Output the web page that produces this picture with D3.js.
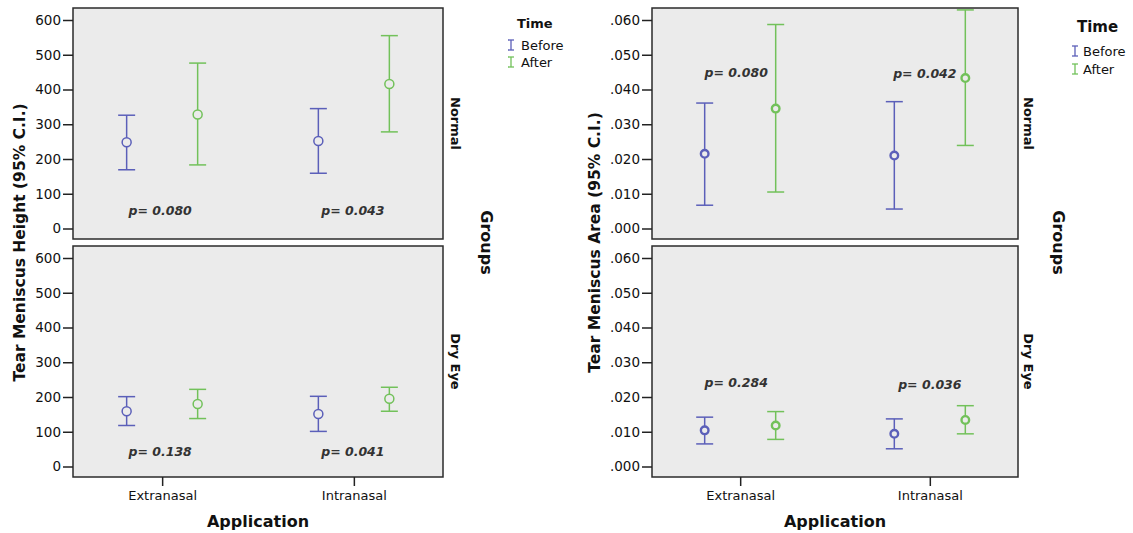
<!DOCTYPE html>
<html>
<head>
<meta charset="utf-8">
<script src="https://cdn.jsdelivr.net/npm/d3@7"></script>
<style>
  html, body { margin: 0; padding: 0; background: #ffffff; }
  svg { display: block; font-family: "DejaVu Sans", Verdana, sans-serif; }
</style>
</head>
<body>
<svg id="chart" width="1133" height="533"></svg>
<script>
// ---------------- DATA ----------------
const applications = ["Extranasal", "Intranasal"];
const groups = ["Normal", "Dry Eye"];
const times = ["Before", "After"];
const heightTicks = [0, 100, 200, 300, 400, 500, 600];
const areaTicks = [0, 0.01, 0.02, 0.03, 0.04, 0.05, 0.06];

// [mean, lower 95% CI, upper 95% CI] for Extranasal, Intranasal
const heightNormalBefore = [[248, 169, 326], [252, 159, 345]];
const heightNormalAfter  = [[328, 183, 476], [416, 278, 555]];
const heightDryBefore    = [[159, 118, 201], [151, 101, 202]];
const heightDryAfter     = [[180, 138, 222], [195, 159, 228]];

const areaNormalBefore = [[0.0215, 0.0067, 0.0361], [0.0210, 0.0056, 0.0365]];
const areaNormalAfter  = [[0.0345, 0.0105, 0.0587], [0.0433, 0.0239, 0.0629]];
const areaDryBefore    = [[0.0104, 0.0065, 0.0142], [0.0094, 0.0051, 0.0137]];
const areaDryAfter     = [[0.0118, 0.0078, 0.0158], [0.0134, 0.0094, 0.0175]];

// p-value annotations [group][application]
const heightPValues = [["p= 0.080", "p= 0.043"], ["p= 0.138", "p= 0.041"]];
const areaPValues   = [["p= 0.080", "p= 0.042"], ["p= 0.284", "p= 0.036"]];

// ---------------- STYLE / LAYOUT ----------------
const colors = { Before: "#5b5fb9", After: "#72c15a" };
const panelFill = "#ebebeb";

const svg = d3.select("#chart");

function buildRows(seriesByGroup) {
  const rows = [];
  groups.forEach((g, gi) => {
    times.forEach((t, ti) => {
      applications.forEach((a, ai) => {
        const v = seriesByGroup[gi][ti][ai];
        rows.push({ group: g, gi, time: t, app: a, ai, mean: v[0], lo: v[1], hi: v[2] });
      });
    });
  });
  return rows;
}

function drawChart(cfg) {
  const g = svg.append("g");
  const x = d3.scalePoint().domain(applications).range([cfg.x0, cfg.x1]).padding(0.465);
  const dx = d3.scalePoint().domain(times).range([-35.5, 35.5]);

  const ys = cfg.panels.map(p =>
    d3.scaleLinear().domain([cfg.ticks[0], cfg.ticks[cfg.ticks.length - 1]])
      .range([p[1] - 10.5, p[0] + 12]));

  cfg.panels.forEach((p, pi) => {
    g.append("rect")
      .attr("x", cfg.x0).attr("y", p[0])
      .attr("width", cfg.x1 - cfg.x0).attr("height", p[1] - p[0])
      .attr("fill", panelFill).attr("stroke", "#2b2b2b").attr("stroke-width", 1.5);

    const yAxis = d3.axisLeft(ys[pi]).tickValues(cfg.ticks).tickSize(10).tickPadding(2)
      .tickFormat(cfg.fmt);
    const ag = g.append("g").attr("transform", `translate(${cfg.x0},0)`).call(yAxis);
    ag.select(".domain").remove();
    ag.selectAll("line").attr("stroke", "#222").attr("stroke-width", 1.5);
    ag.selectAll("text").attr("font-size", 13.5).attr("fill", "#111")
      .attr("font-family", "DejaVu Sans, sans-serif");

    g.append("text")
      .attr("transform", `translate(${cfg.facetX},${(p[0] + p[1]) / 2}) rotate(90)`)
      .attr("text-anchor", "middle").attr("dy", "0.35em")
      .attr("font-size", 13).attr("font-weight", "bold").attr("fill", "#111")
      .text(groups[pi]);

    applications.forEach((a, ai) => {
      g.append("text")
        .attr("x", x(a) + cfg.pDx[pi][ai])
        .attr("y", ys[pi](cfg.pY[pi][ai]))
        .attr("text-anchor", "middle").attr("dy", "0.35em")
        .attr("font-size", 12.5).attr("font-style", "italic").attr("font-weight", "bold")
        .attr("fill", "#333")
        .text(cfg.pValues[pi][ai]);
    });
  });

  const rows = buildRows(cfg.series);
  const cap = 8.5;
  rows.forEach(d => {
    const y = ys[d.gi];
    const cx = x(d.app) + dx(d.time);
    const c = colors[d.time];
    const eg = g.append("g").attr("stroke", c).attr("fill", "none").attr("stroke-width", 1.5);
    eg.append("line").attr("x1", cx).attr("x2", cx).attr("y1", y(d.lo)).attr("y2", y(d.hi));
    eg.append("line").attr("x1", cx - cap).attr("x2", cx + cap).attr("y1", y(d.lo)).attr("y2", y(d.lo));
    eg.append("line").attr("x1", cx - cap).attr("x2", cx + cap).attr("y1", y(d.hi)).attr("y2", y(d.hi));
    eg.append("circle").attr("cx", cx).attr("cy", y(d.mean)).attr("r", cfg.r)
      .attr("fill", panelFill).attr("stroke-width", cfg.circleStroke);
  });

  const lastP = cfg.panels[cfg.panels.length - 1];
  const xAxis = d3.axisBottom(x).tickSize(9).tickPadding(5);
  const xg = g.append("g").attr("transform", `translate(0,${lastP[1]})`).call(xAxis);
  xg.select(".domain").remove();
  xg.selectAll("line").attr("stroke", "#222").attr("stroke-width", 1.5);
  xg.selectAll("text").attr("font-size", 13).attr("fill", "#111")
    .attr("font-family", "DejaVu Sans, sans-serif");

  g.append("text")
    .attr("x", (cfg.x0 + cfg.x1) / 2).attr("y", 527)
    .attr("text-anchor", "middle").attr("font-size", 16).attr("font-weight", "bold").attr("fill", "#111")
    .text("Application");
  g.append("text")
    .attr("transform", `translate(${cfg.yTitleX},${(cfg.panels[0][0] + lastP[1]) / 2}) rotate(-90)`)
    .attr("text-anchor", "middle").attr("dy", "0.35em")
    .attr("font-size", 15.5).attr("font-weight", "bold").attr("fill", "#111")
    .text(cfg.yTitle);
  g.append("text")
    .attr("transform", `translate(${cfg.groupsX},${(cfg.panels[0][0] + lastP[1]) / 2}) rotate(90)`)
    .attr("text-anchor", "middle").attr("dy", "0.35em")
    .attr("font-size", 16).attr("font-weight", "bold").attr("fill", "#111")
    .text("Groups");

  const L = cfg.legend;
  g.append("text").attr("x", L.titleX).attr("y", L.titleY)
    .attr("font-size", L.titleSize).attr("font-weight", "bold").attr("fill", "#111").text("Time");
  times.forEach((t, i) => {
    const by = L.itemY[i];
    const lg = g.append("g").attr("stroke", colors[t]).attr("stroke-width", 1.3);
    lg.append("line").attr("x1", L.symX).attr("x2", L.symX).attr("y1", by - 10).attr("y2", by);
    lg.append("line").attr("x1", L.symX - 3).attr("x2", L.symX + 3).attr("y1", by - 10).attr("y2", by - 10);
    lg.append("line").attr("x1", L.symX - 3).attr("x2", L.symX + 3).attr("y1", by).attr("y2", by);
    g.append("text").attr("x", L.textX).attr("y", by)
      .attr("font-size", 13).attr("fill", "#111").text(t);
  });
}

drawChart({
  x0: 73, x1: 443,
  panels: [[8, 239], [246, 477]],
  ticks: heightTicks,
  fmt: d3.format("d"),
  series: [[heightNormalBefore, heightNormalAfter], [heightDryBefore, heightDryAfter]],
  pValues: heightPValues,
  pY: [[52, 52], [44, 44]],
  pDx: [[-2, -1], [-2, -1]],
  facetX: 456,
  groupsX: 487,
  yTitleX: 20,
  yTitle: "Tear Meniscus Height (95% C.I.)",
  r: 4.5, circleStroke: 1.5,
  legend: { titleX: 517, titleY: 28, titleSize: 13, symX: 511, textX: 521, itemY: [50, 67] }
});

drawChart({
  x0: 652, x1: 1018,
  panels: [[8, 239], [246, 477]],
  ticks: areaTicks,
  fmt: d => d3.format(".3f")(d).replace(/^0/, ""),
  series: [[areaNormalBefore, areaNormalAfter], [areaDryBefore, areaDryAfter]],
  pValues: areaPValues,
  pY: [[0.0449, 0.0445], [0.0240, 0.0236]],
  pDx: [[-4, -5], [-4, 0]],
  facetX: 1029,
  groupsX: 1059,
  yTitleX: 595,
  yTitle: "Tear Meniscus Area (95% C.I.)",
  r: 3.8, circleStroke: 2.4,
  legend: { titleX: 1077, titleY: 32, titleSize: 15, symX: 1075, textX: 1083, itemY: [56, 74] }
});
</script>
</body>
</html>
